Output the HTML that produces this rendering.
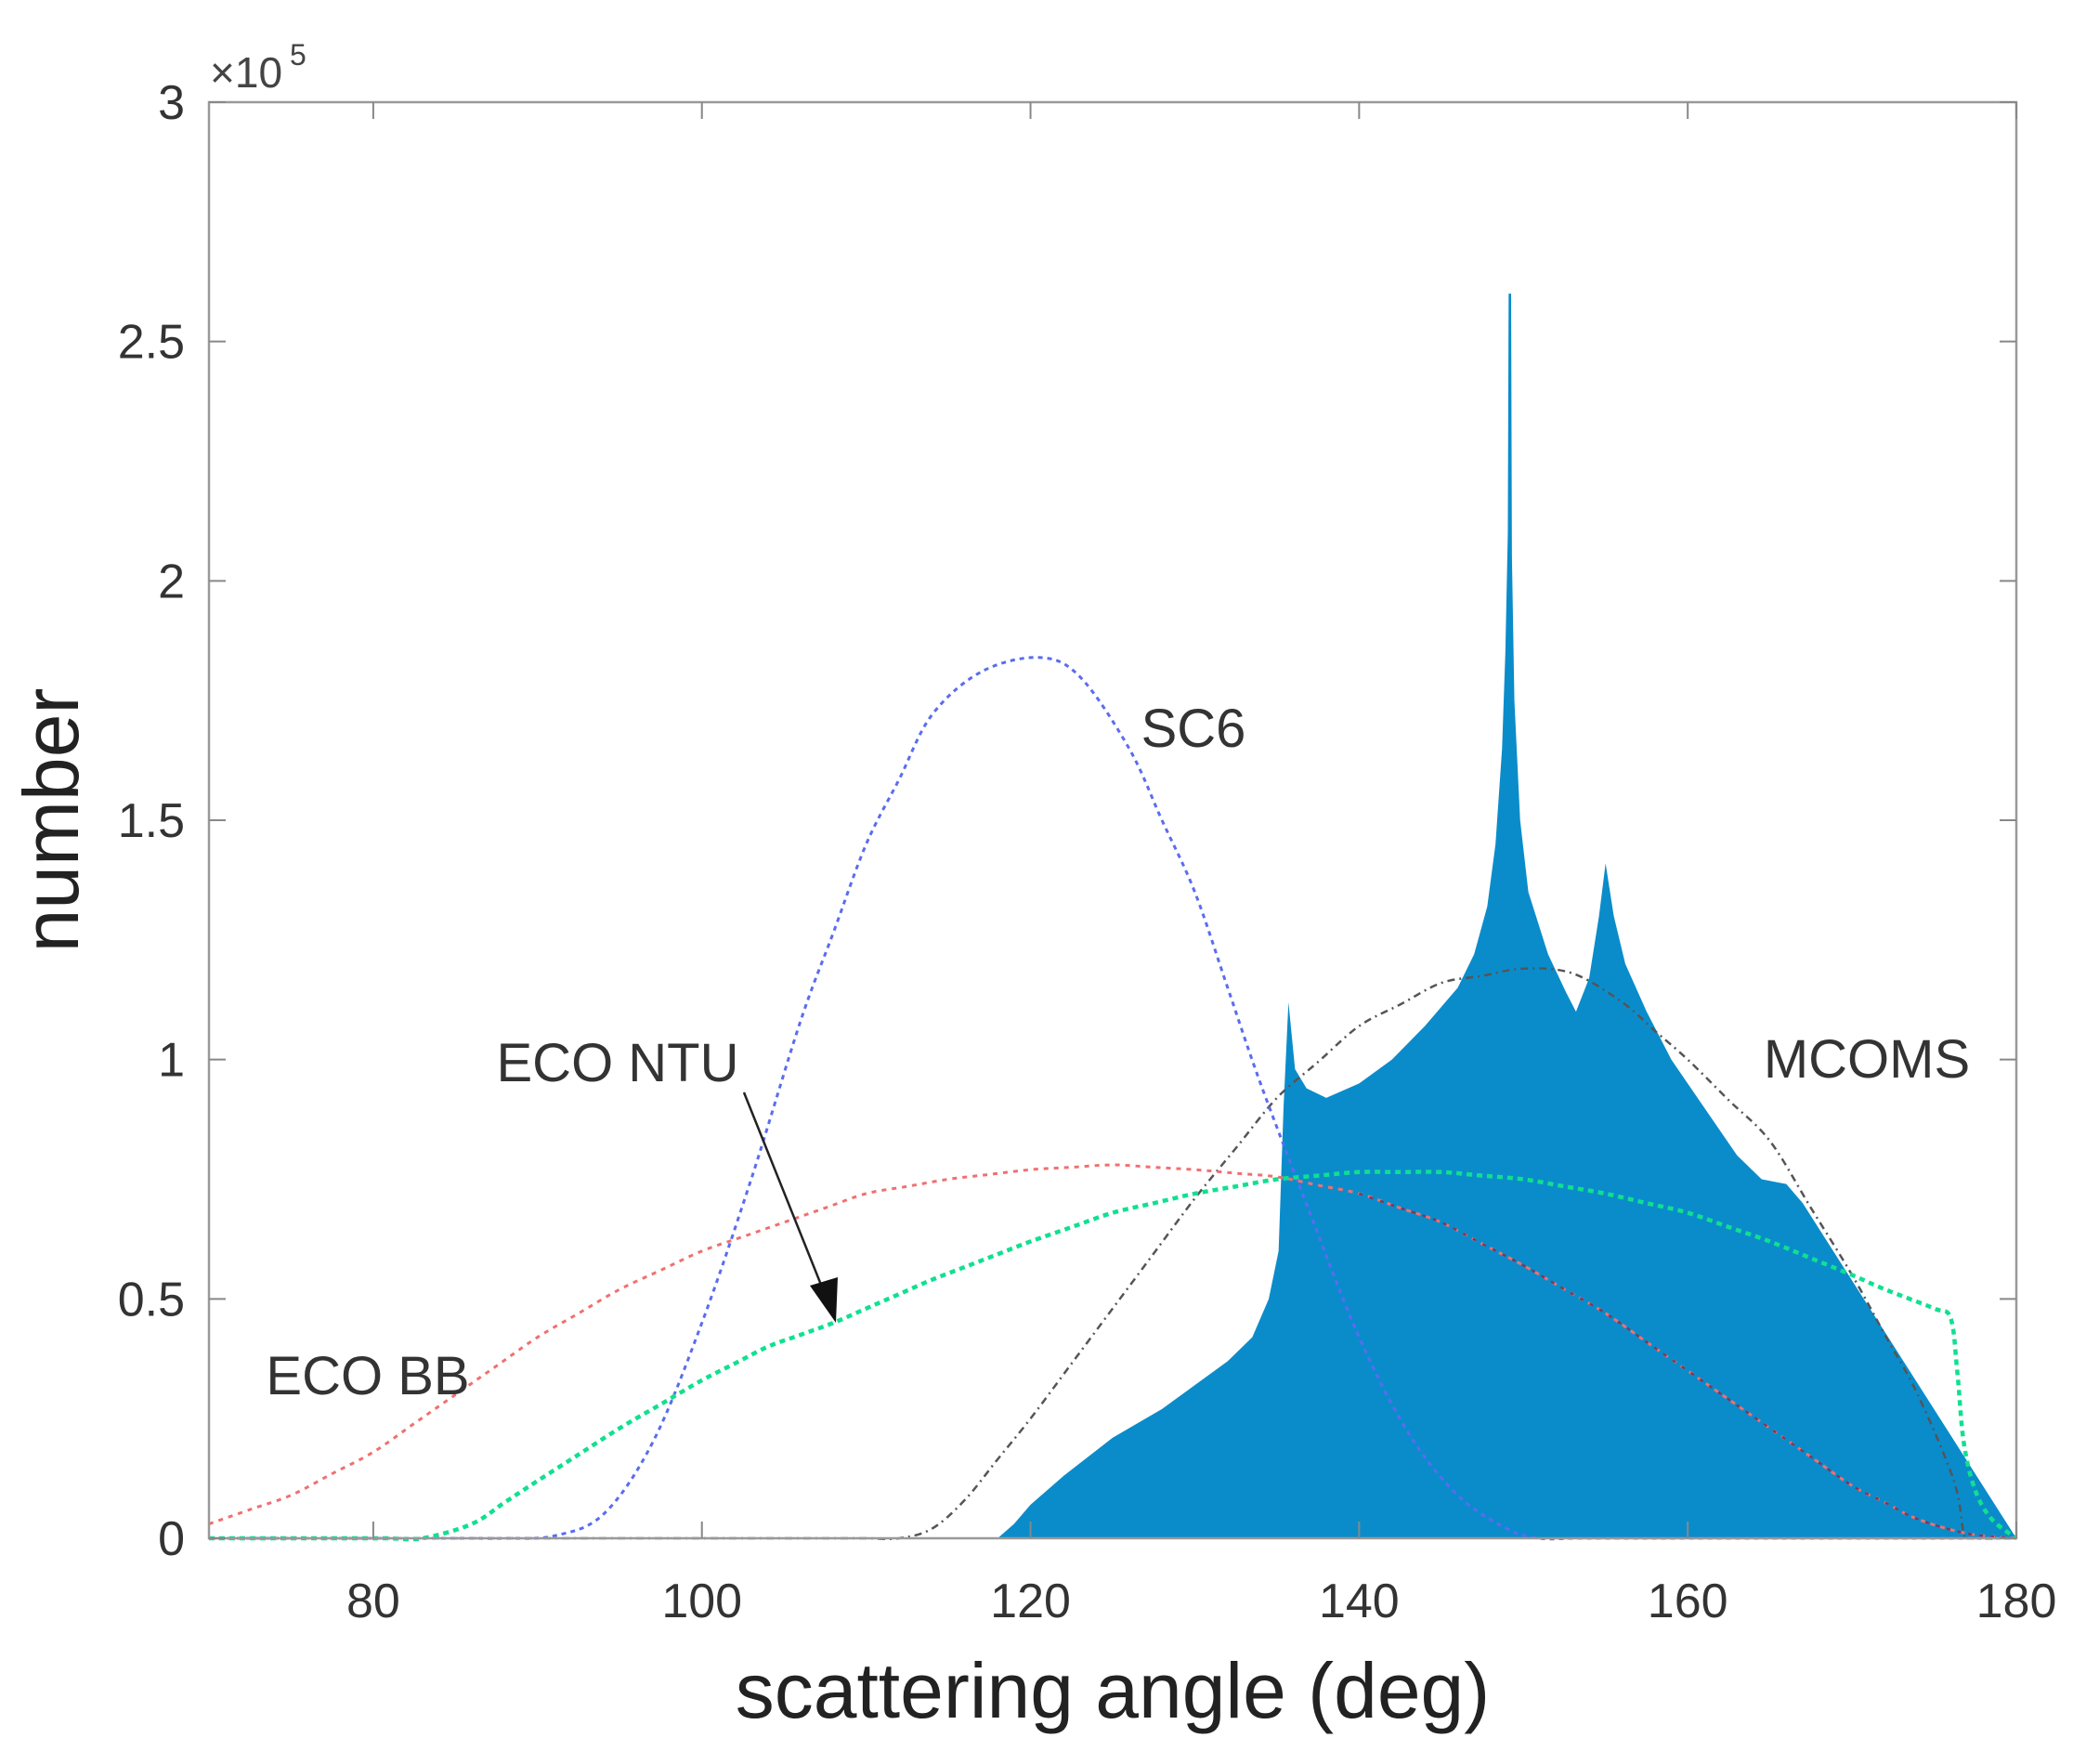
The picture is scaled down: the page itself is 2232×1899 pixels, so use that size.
<!DOCTYPE html>
<html><head><meta charset="utf-8"><style>
html,body{margin:0;padding:0;background:#fff;}
svg{display:block;font-family:"Liberation Sans",Arial,sans-serif;}
</style></head><body>
<svg id="s" width="2232" height="1899" viewBox="0 0 2232 1899" xmlns="http://www.w3.org/2000/svg">
<rect width="2232" height="1899" fill="#fff"/>
<g id="plot"></g>
<rect x="225" y="110" width="1946" height="1546" fill="none" stroke="#999" stroke-width="2.5"/>
<g id="ticks" stroke="#888" stroke-width="2"></g>
<g font-size="52" fill="#333" id="lbl"></g>
<text x="226" y="94" font-size="46" fill="#444">×10</text>
<text x="312" y="70" font-size="32" fill="#444">5</text>
<text x="1198" y="1849" font-size="84" fill="#222" text-anchor="middle">scattering angle (deg)</text>
<text transform="translate(84,883) rotate(-90)" font-size="84" fill="#222" text-anchor="middle">number</text>
<text x="1285" y="804" font-size="58" fill="#333" text-anchor="middle">SC6</text>
<text x="665" y="1164" font-size="58" fill="#333" text-anchor="middle">ECO NTU</text>
<text x="396" y="1501" font-size="58" fill="#333" text-anchor="middle">ECO BB</text>
<text x="2010" y="1160" font-size="58" fill="#333" text-anchor="middle">MCOMS</text>
<line x1="801" y1="1176" x2="890" y2="1398" stroke="#222" stroke-width="2.5"/>
<polygon points="900,1424 872,1384 902,1375" fill="#111"/>
</svg>
<script>
const L=225,R=2171,T=110,B=1656;
const X=v=>L+(v-70)*(R-L)/110, Y=v=>B-v*(B-T)/3;
const NS="http://www.w3.org/2000/svg";
const plot=document.getElementById('plot');
function el(tag,attrs,parent){const e=document.createElementNS(NS,tag);for(const k in attrs)e.setAttribute(k,attrs[k]);(parent||plot).appendChild(e);return e;}
function dens(pts){const o=[];for(let i=0;i<pts.length;i++){o.push(pts[i]);if(i<pts.length-1){const a=pts[i],b=pts[i+1];const n=Math.floor((b[0]-a[0])/2);for(let k=1;k<n;k++){const t=k/n;o.push([a[0]+t*(b[0]-a[0]),a[1]+t*(b[1]-a[1])]);}}}return o;}
function cr(pts){
 pts=dens(pts);
 const p=pts.map(a=>[X(a[0]),Y(a[1])]);let d="M"+p[0][0]+","+p[0][1];
 for(let i=0;i<p.length-1;i++){const p0=p[i-1]||p[i],p1=p[i],p2=p[i+1],p3=p[i+2]||p2;
  d+=` C${p1[0]+(p2[0]-p0[0])/6},${p1[1]+(p2[1]-p0[1])/6} ${p2[0]-(p3[0]-p1[0])/6},${p2[1]-(p3[1]-p1[1])/6} ${p2[0]},${p2[1]}`;}
 return d;}
const fill=[[118,0],[119,0.03],[120,0.07],[122,0.13],[125,0.21],[128,0.27],[130,0.32],[132,0.37],[133.5,0.42],[134.5,0.5],[135.1,0.6],[135.4,0.9],[135.7,1.12],[136.1,0.98],[136.8,0.94],[138,0.92],[140,0.95],[142,1.0],[144,1.07],[146,1.15],[147,1.22],[147.8,1.32],[148.3,1.45],[148.7,1.65],[148.9,1.85],[149.05,2.1],[149.1,2.6],[149.25,2.6],[149.3,2.05],[149.45,1.75],[149.8,1.5],[150.3,1.35],[151.5,1.22],[152.6,1.14],[153.2,1.1],[154,1.17],[154.6,1.3],[155,1.41],[155.5,1.3],[156.2,1.2],[157.5,1.1],[159,1.0],[161,0.9],[163,0.8],[164.5,0.75],[166,0.74],[167,0.7],[180,0]];
el('polygon',{points:fill.map(a=>X(a[0])+","+Y(a[1])).join(" "),fill:"#0a8ccb"});
const sc6=[[70,0],[88,0],[91,0.005],[94,0.05],[97,0.2],[100,0.45],[103,0.75],[106,1.08],[110,1.45],[114,1.72],[117,1.81],[120.5,1.84],[123,1.8],[126,1.65],[130,1.35],[134,0.95],[137,0.68],[140,0.42],[143,0.22],[146,0.09],[149,0.02],[151,0],[180,0]];
const bb=[[70,0.03],[75,0.09],[80,0.18],[85,0.3],[90,0.42],[95,0.52],[100,0.6],[105,0.66],[110,0.72],[115,0.75],[120,0.77],[125,0.78],[130,0.77],[135,0.755],[140,0.72],[145,0.66],[150,0.57],[155,0.47],[160,0.35],[165,0.23],[170,0.11],[174,0.04],[177,0.01],[180,0]];
const ntu=[[70,0],[83,0],[86,0.03],[90,0.12],[95,0.23],[100,0.33],[104,0.4],[108,0.45],[114,0.54],[120,0.62],[125,0.68],[130,0.72],[135,0.75],[140,0.765],[145,0.765],[150,0.75],[155,0.72],[160,0.68],[165,0.62],[170,0.55],[172,0.52],[175,0.48],[176,0.46],[176.4,0.35],[176.8,0.2],[177.5,0.1],[178.5,0.04],[180,0]];
const mc=[[70,0],[112,0],[114,0.02],[116,0.08],[120,0.25],[125,0.48],[130,0.71],[135,0.92],[140,1.07],[145,1.16],[150,1.19],[153,1.18],[156,1.12],[160,1.0],[165,0.83],[170,0.55],[174,0.3],[176.2,0.12],[176.8,0.01],[177.2,0],[180,0]];
const bbDark=bb.filter(a=>a[0]>=137);
el('path',{d:cr(mc),fill:"none",stroke:"#555","stroke-width":2.5,"stroke-dasharray":"8 5 2 5"});
el('path',{d:cr(sc6),fill:"none",stroke:"#5a6cf0","stroke-width":3,"stroke-dasharray":"5 5"});
el('path',{d:cr(bb),fill:"none",stroke:"#f07070","stroke-width":3,"stroke-dasharray":"5 6"});
el('path',{d:cr(bbDark),fill:"none",stroke:"#7a3a5a","stroke-width":2.5,"stroke-dasharray":"4 8"});
el('path',{d:cr(ntu),fill:"none",stroke:"#10e090","stroke-width":4.5,"stroke-dasharray":"6 5"});
const tk=document.getElementById('ticks'),lb=document.getElementById('lbl');
for(let v=80;v<=180;v+=20){const x=X(v);el('line',{x1:x,y1:B,x2:x,y2:B-18},tk);el('line',{x1:x,y1:T,x2:x,y2:T+18},tk);
 const t=el('text',{x:x,y:B+85,"text-anchor":"middle"},lb);t.textContent=v;}
const yl=["0","0.5","1","1.5","2","2.5","3"];
yl.forEach((s,i)=>{const y=Y(i*0.5);el('line',{x1:L,y1:y,x2:L+18,y2:y},tk);el('line',{x1:R,y1:y,x2:R-18,y2:y},tk);
 const t=el('text',{x:L-26,y:y+18,"text-anchor":"end"},lb);t.textContent=s;});
</script>
</body></html>
